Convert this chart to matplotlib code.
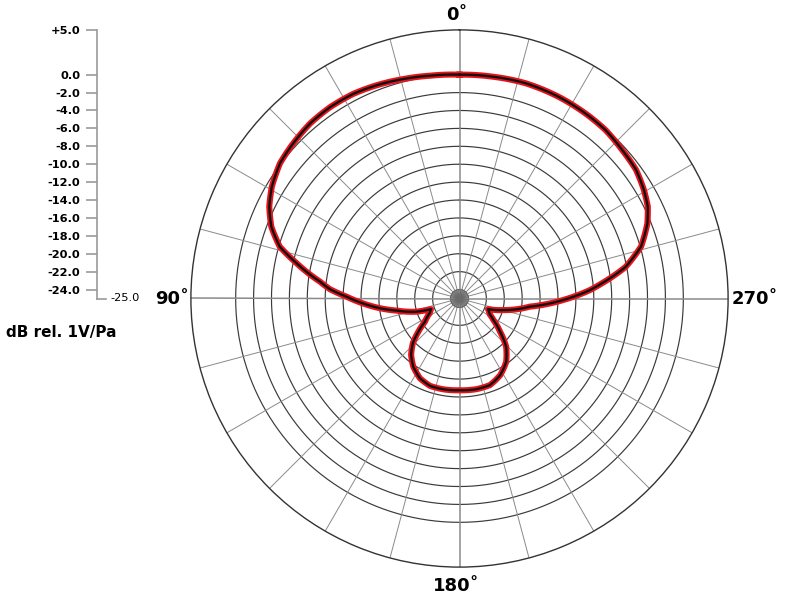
import numpy as np
import matplotlib
matplotlib.use("Agg")
import matplotlib.pyplot as plt
from matplotlib.lines import Line2D

# ---- data (angle in degrees, counter-clockwise from front; level in dB) ----
angles_deg = [0, 7.5, 14.4, 21.2, 27.4, 34, 40.5, 47, 53, 59.2, 64.2, 69.1, 73.9,
              77.8, 83.1, 85.9, 89.1, 92.9, 101, 107.1, 110.5, 116, 123.9, 128.9,
              133.7, 139.4, 145.9, 153.7, 161.4, 169.9, 180, 190.7, 199.4, 207.9,
              216.3, 224, 230.7, 237.5, 242.5, 249.5, 255.3, 263.4, 269.2, 273.7,
              276.1, 280.8, 286, 291.8, 296, 300.5, 306.1, 312.4, 319.1, 325.7,
              333.8, 342.9, 351.6]
level_db = [0.0, 0.1, 0.3, 0.55, 0.75, 0.8, 0.7, 0.4, 0.1, -0.6, -1.4, -2.5, -4.1,
            -6.4, -9.3, -10.5, -12.4, -14.2, -17.9, -20.0, -21.6, -21.3, -20.35, -19.1,
            -17.8, -16.7, -15.8, -15.05, -14.7, -14.7, -14.75, -14.7, -14.75, -15.3,
            -16.2, -17.5, -19.15, -20.5, -21.2, -21.6, -19.9, -17.1, -13.4, -10.4,
            -9.0, -6.1, -3.9, -2.4, -1.6, -1.1, -0.6, -0.4, -0.1, 0.0,
            0.1, 0.15, 0.05]

scale_ticks = [5, 0, -2, -4, -6, -8, -10, -12, -14, -16, -18, -20, -22, -24]
scale_labels = ["+5.0", "0.0", "-2.0", "-4.0", "-6.0", "-8.0", "-10.0", "-12.0",
                "-14.0", "-16.0", "-18.0", "-20.0", "-22.0", "-24.0"]
grid_circles = [0, -2, -4, -6, -8, -10, -12, -14, -16, -18, -20, -22, -24]
angle_labels = ["0˚", "90˚", "180˚", "270˚"]
r_min, r_max = -25, 5

W, H = 789, 600
fig = plt.figure(figsize=(W / 100, H / 100), dpi=100)
fig.patch.set_facecolor("white")

cx, cy, R = 459.5, 298.5, 268.6
ax = fig.add_axes([(cx - R) / W, (H - cy - R) / H, 2 * R / W, 2 * R / H], projection="polar")
ax.set_theta_zero_location("N")
ax.set_theta_direction(1)
ax.set_rlim(r_min, r_max)
ax.grid(False)
ax.set_xticks([])
ax.set_yticks([])
ax.spines["polar"].set_color("#333333")
ax.spines["polar"].set_linewidth(1.0)

# grid circles
tt = np.linspace(0, 2 * np.pi, 721)
for g in grid_circles:
    ax.plot(tt, np.full_like(tt, g), color="#3a3a3a", lw=0.85, zorder=1)
# spokes every 15 degrees
for a in range(0, 360, 15):
    lw = 1.1 if a % 90 == 0 else 0.7
    ax.plot([np.deg2rad(a)] * 2, [r_min, r_max], color="#8a8a8a", lw=lw, zorder=1)
# dense spokes near center
for a in range(0, 360, 5):
    if a % 15:
        ax.plot([np.deg2rad(a)] * 2, [r_min, -24], color="#6a6a6a", lw=0.6, zorder=1)

th = np.deg2rad(angles_deg + [angles_deg[0] + 360])
lv = level_db + [level_db[0]]
l1, = ax.plot(th, lv, color="#e8141b", lw=4.4, zorder=3, solid_joinstyle="round")
l2, = ax.plot(th, lv, color="#111111", lw=1.7, zorder=4, solid_joinstyle="round")
for ln in (l1, l2):
    ln.get_path()._interpolation_steps = 40

# angle labels
lab_font = dict(fontsize=13, fontweight="bold", family="DejaVu Sans")
pos = [(457, 15, "center"), (172, 299, "center"), (456, 586, "center"), (755, 299, "center")]
for (x, y, ha), t in zip(pos, angle_labels):
    fig.text(x / W, 1 - y / H, t, ha=ha, va="center", **lab_font)

# left dB scale
ax2 = fig.add_axes([97 / W, (H - cy) / H, 0.0001, R / H])
ax2.set_ylim(r_min, r_max)
for s in ["right", "top", "bottom"]:
    ax2.spines[s].set_visible(False)
ax2.spines["left"].set_color("#9a9a9a")
ax2.spines["left"].set_linewidth(1.2)
ax2.set_xticks([])
ax2.set_yticks(scale_ticks)
ax2.set_yticklabels(scale_labels, fontsize=8.2, fontweight="bold")
ax2.tick_params(axis="y", direction="out", length=8, width=1.2, color="#9a9a9a", pad=4)
ax2.patch.set_alpha(0)

fig.add_artist(Line2D([97 / W, 106 / W], [1 - cy / H, 1 - cy / H], color="#9a9a9a", lw=1.2))
fig.text(110 / W, 1 - 298 / H, "-25.0", ha="left", va="center", fontsize=8.2)
fig.text(6 / W, 1 - 332 / H, "dB rel. 1V/Pa", ha="left", va="center", fontsize=11, fontweight="bold")

fig.savefig("out.png", dpi=100)
